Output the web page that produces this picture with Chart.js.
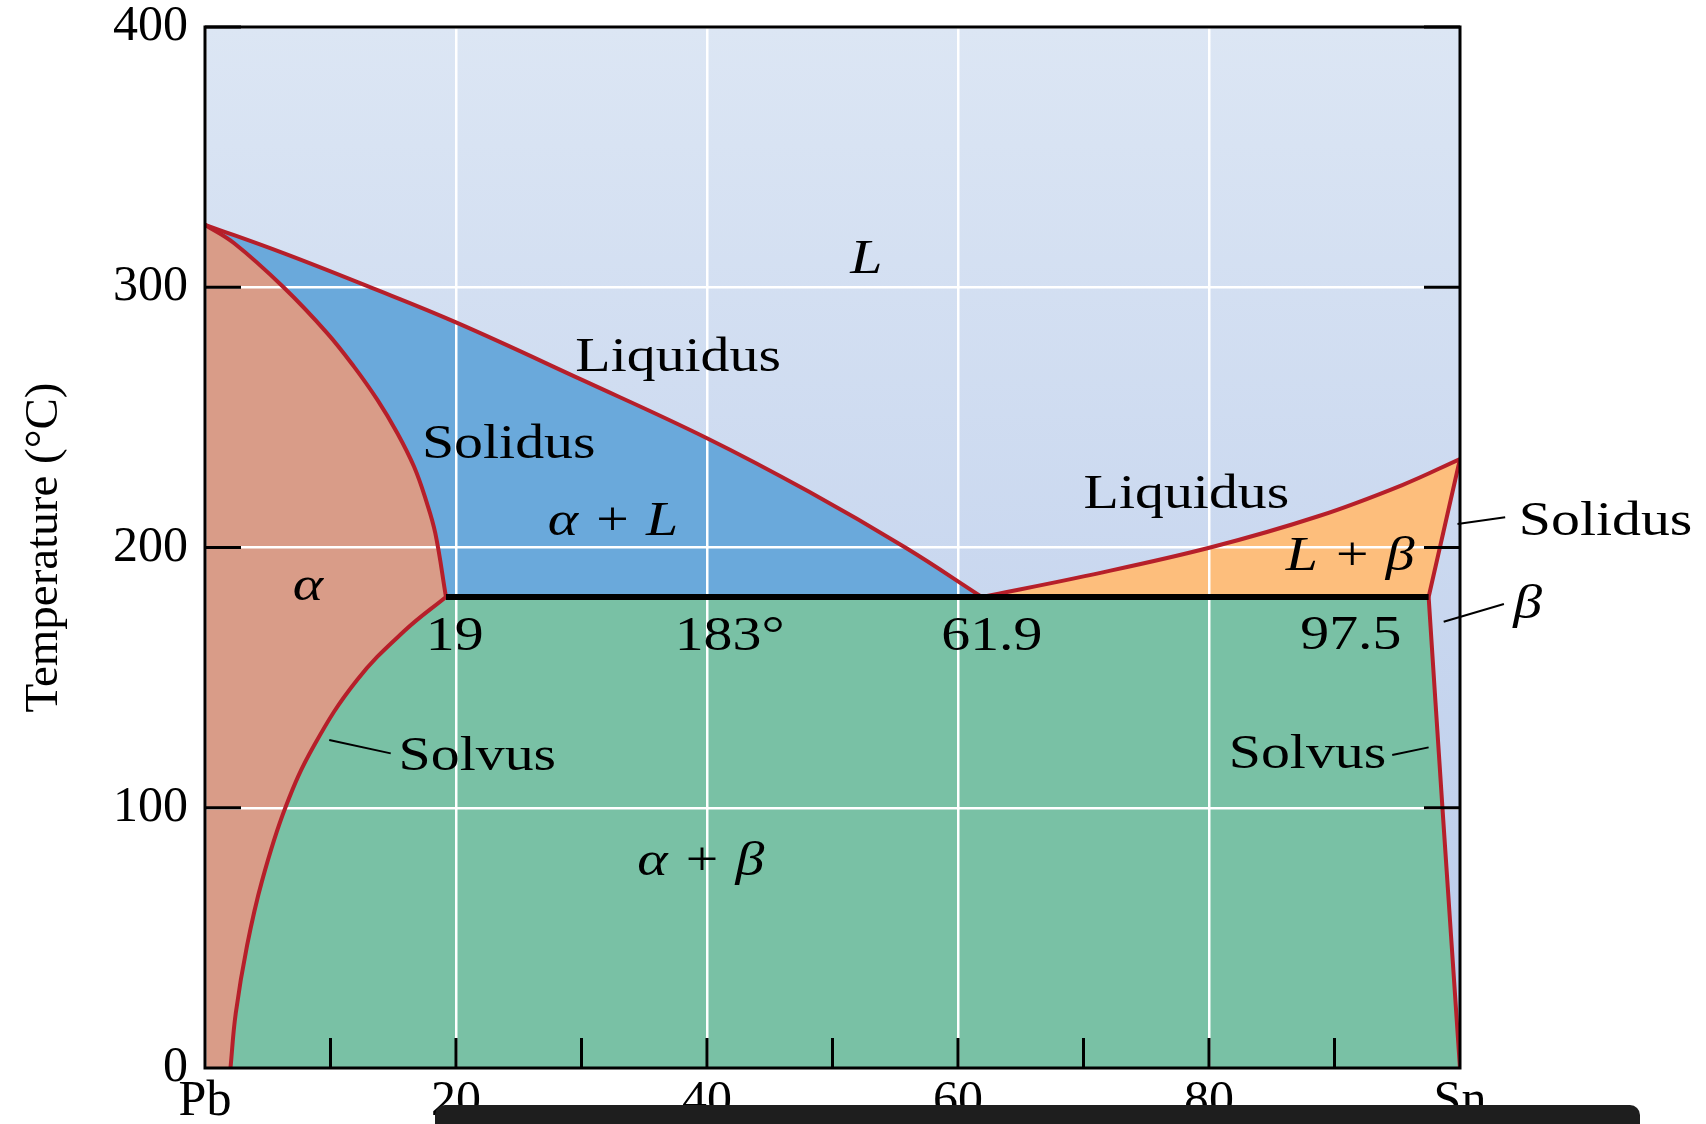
<!DOCTYPE html>
<html>
<head>
<meta charset="utf-8">
<title>Pb–Sn phase diagram</title>
<script src="https://cdn.jsdelivr.net/npm/chart.js@4.4.1/dist/chart.umd.min.js"></script>
<style>
  html, body { margin: 0; padding: 0; background: #fff; }
  #wrap { width: 1706px; height: 1124px; }
</style>
</head>
<body>
<div id="wrap"><canvas id="phaseChart" width="1706" height="1124"></canvas></div>
<script>
// composition (wt% Sn) and temperature (°C)
const liquidusPbX = [0, 6.3, 12.9, 20, 30, 40, 48.1, 55.8, 61.9];
const liquidusPbT = [324, 313, 300.5, 286.5, 264.5, 242, 221.5, 200, 181];
const solidusPbX = [0, 2.3, 6.26, 9.75, 11.87, 13.74, 15.33, 16.66, 17.6, 18.35, 19.2];
const solidusPbT = [324, 317, 300, 282.3, 269.5, 256.7, 243.9, 231, 218.3, 205.5, 181];
const solvusPbX = [19.2, 15.9, 12.1, 8.7, 6.4, 4.55, 3.35, 2.45, 2.03];
const solvusPbT = [181, 168, 149, 124, 100, 72, 47, 21, 0];
const liquidusSnX = [61.9, 70.1, 80.1, 88.7, 95.4, 100];
const liquidusSnT = [181, 189, 200, 212, 224, 234];
const solidusSnX = [100, 97.5];
const solidusSnT = [234, 181];
const solvusSnX = [97.5, 98.6, 100];
const solvusSnT = [181, 100, 0];
const eutecticX = [19.2, 61.9, 97.5];
const eutecticT = 181;

const compLabels = ['Pb', '20', '40', '60', '80', 'Sn'];
const tempLabels = ['0', '100', '200', '300', '400'];

// text placed on the diagram (data units)
const notes = [
  {text: 'L', x: 52.7, y: 305.4, italic: true},
  {text: 'Liquidus', x: 37.7, y: 268},
  {text: 'Solidus', x: 24.2, y: 234.3},
  {text: 'α + L', x: 32.5, y: 204.8, italic: true},
  {text: 'α', x: 8.2, y: 179.8, italic: true},
  {text: '19', x: 19.9, y: 160.6},
  {text: '183°', x: 41.8, y: 160.6},
  {text: '61.9', x: 62.7, y: 160.6},
  {text: '97.5', x: 91.3, y: 161},
  {text: 'Liquidus', x: 78.2, y: 215},
  {text: 'L + β', x: 91.25, y: 191.4, italic: true},
  {text: 'Solidus', x: 111.6, y: 204.8},
  {text: 'β', x: 105.4, y: 172.8, italic: true},
  {text: 'Solvus', x: 21.7, y: 114.5},
  {text: 'Solvus', x: 87.85, y: 115.2},
  {text: 'α + β', x: 39.5, y: 74.2, italic: true}
];
const leaders = [
  [9.9, 126, 14.8, 120.9],
  [94.6, 120.3, 97.5, 123.2],
  [99.8, 209, 103.6, 211.6],
  [98.7, 171.5, 103.5, 178.3]
];

const serif = "'Liberation Serif', 'Times New Roman', serif";
const red = '#b61f2a';
const tension = 0.4;

const pts = (xs, ts) => xs.map((x, i) => ({x: x, y: Array.isArray(ts) ? ts[i] : ts}));
const rev = a => a.slice().reverse();

const liqPb = pts(liquidusPbX, liquidusPbT);
const solPb = pts(solidusPbX, solidusPbT);
const svPb = pts(solvusPbX, solvusPbT);
const liqSn = pts(liquidusSnX, liquidusSnT);
const solSn = pts(solidusSnX, solidusSnT);
const svSn = pts(solvusSnX, solvusSnT);

// corners shared by consecutive parts appear twice, which keeps them sharp
const alphaRegion = [].concat(pts([0, 0], [0, liquidusPbT[0]]), solPb, svPb);
const alphaLRegion = [].concat(liqPb, pts([eutecticX[1], eutecticX[0]], eutecticT), rev(solPb));
const lBetaRegion = [].concat(liqSn, solSn);
const alphaBetaRegion = [].concat(
  pts([eutecticX[0], eutecticX[2]], eutecticT), svSn,
  pts([100, solvusPbX[solvusPbX.length - 1]], [0, 0]), rev(svPb));

function region(data, color) {
  return {data, showLine: true, fill: 'shape', backgroundColor: color, borderColor: 'transparent',
    borderWidth: 0, pointRadius: 0, tension};
}
function curve(data, color, width) {
  return {data, showLine: true, fill: false, borderColor: color, borderWidth: width,
    pointRadius: 0, tension};
}

const decor = {
  id: 'decor',
  beforeDraw(chart) {
    const {ctx, chartArea: a} = chart;
    ctx.save();
    ctx.globalCompositeOperation = 'destination-over';
    const g = ctx.createLinearGradient(0, a.top, 0, a.bottom);
    g.addColorStop(0, '#dce6f4');
    g.addColorStop(1, '#b9cbeb');
    ctx.fillStyle = g;
    ctx.fillRect(a.left, a.top, a.right - a.left, a.bottom - a.top);
    ctx.restore();
  },
  afterDatasetsDraw(chart) {
    const {ctx, chartArea: a, scales: {x, y}} = chart;
    ctx.save();
    ctx.strokeStyle = '#000';
    ctx.lineWidth = 3;
    ctx.strokeRect(a.left, a.top, a.right - a.left, a.bottom - a.top);
    ctx.beginPath();
    for (let v = 100; v <= 400; v += 100) {
      const py = y.getPixelForValue(v);
      ctx.moveTo(a.left, py); ctx.lineTo(a.left + 36, py);
      ctx.moveTo(a.right - 36, py); ctx.lineTo(a.right, py);
    }
    for (let v = 10; v < 100; v += 10) {
      const px = x.getPixelForValue(v);
      ctx.moveTo(px, a.bottom); ctx.lineTo(px, a.bottom - 30);
    }
    ctx.stroke();

    ctx.lineWidth = 2;
    ctx.beginPath();
    leaders.forEach(l => {
      ctx.moveTo(x.getPixelForValue(l[0]), y.getPixelForValue(l[1]));
      ctx.lineTo(x.getPixelForValue(l[2]), y.getPixelForValue(l[3]));
    });
    ctx.stroke();

    ctx.fillStyle = '#000';
    ctx.textAlign = 'center';
    ctx.textBaseline = 'alphabetic';
    notes.forEach(n => {
      ctx.save();
      ctx.translate(x.getPixelForValue(n.x), y.getPixelForValue(n.y));
      ctx.scale(1.18, 1);
      ctx.font = (n.italic ? 'italic ' : '') + '49px ' + serif;
      ctx.fillText(n.text, 0, 0);
      ctx.restore();
    });
    ctx.restore();
  },
  afterDraw(chart) {
    // dark bar across the bottom of the source image
    const ctx = chart.ctx;
    ctx.save();
    ctx.fillStyle = '#1e1e1e';
    ctx.beginPath();
    ctx.roundRect(435, 1105, 1205, 40, 10);
    ctx.fill();
    ctx.restore();
  }
};

new Chart(document.getElementById('phaseChart'), {
  type: 'scatter',
  data: {
    datasets: [
      region(alphaRegion, '#d99c88'),
      region(alphaLRegion, '#6aa9db'),
      region(lBetaRegion, '#fdbe7c'),
      region(alphaBetaRegion, '#79c1a5'),
      curve(pts([eutecticX[0], eutecticX[2]], eutecticT), '#000', 6),
      curve(liqPb, red, 4),
      curve(solPb, red, 4),
      curve(svPb, red, 4),
      curve(liqSn, red, 4),
      curve(solSn, red, 4),
      curve(svSn, red, 4)
    ]
  },
  options: {
    responsive: false,
    animation: false,
    devicePixelRatio: 1,
    layout: {padding: {left: 0, right: 246, top: 27, bottom: 0}},
    plugins: {
      legend: {display: false},
      tooltip: {enabled: false},
      filler: {drawTime: 'beforeDraw'}
    },
    scales: {
      x: {
        type: 'linear',
        min: 0,
        max: 100,
        afterFit: s => { s.height = 56; },
        border: {display: false},
        grid: {color: '#fff', lineWidth: 2.5, drawTicks: false},
        ticks: {
          stepSize: 20,
          autoSkip: false,
          maxRotation: 0,
          padding: 9,
          color: '#000',
          font: {family: serif, size: 50, lineHeight: 1},
          callback: (v, i) => compLabels[i]
        }
      },
      y: {
        type: 'linear',
        min: 0,
        max: 400,
        afterFit: s => { s.width = 205; s.paddingTop = 0; s.paddingBottom = 0; },
        border: {display: false},
        grid: {color: '#fff', lineWidth: 2.5, drawTicks: false},
        ticks: {
          stepSize: 100,
          padding: 17,
          color: '#000',
          font: {family: serif, size: 50, lineHeight: 1},
          callback: (v, i) => tempLabels[i]
        },
        title: {
          display: true,
          text: 'Temperature (°C)',
          color: '#000',
          padding: {top: 16, bottom: 0},
          font: {family: serif, size: 47}
        }
      }
    }
  },
  plugins: [decor]
});
</script>
</body>
</html>
